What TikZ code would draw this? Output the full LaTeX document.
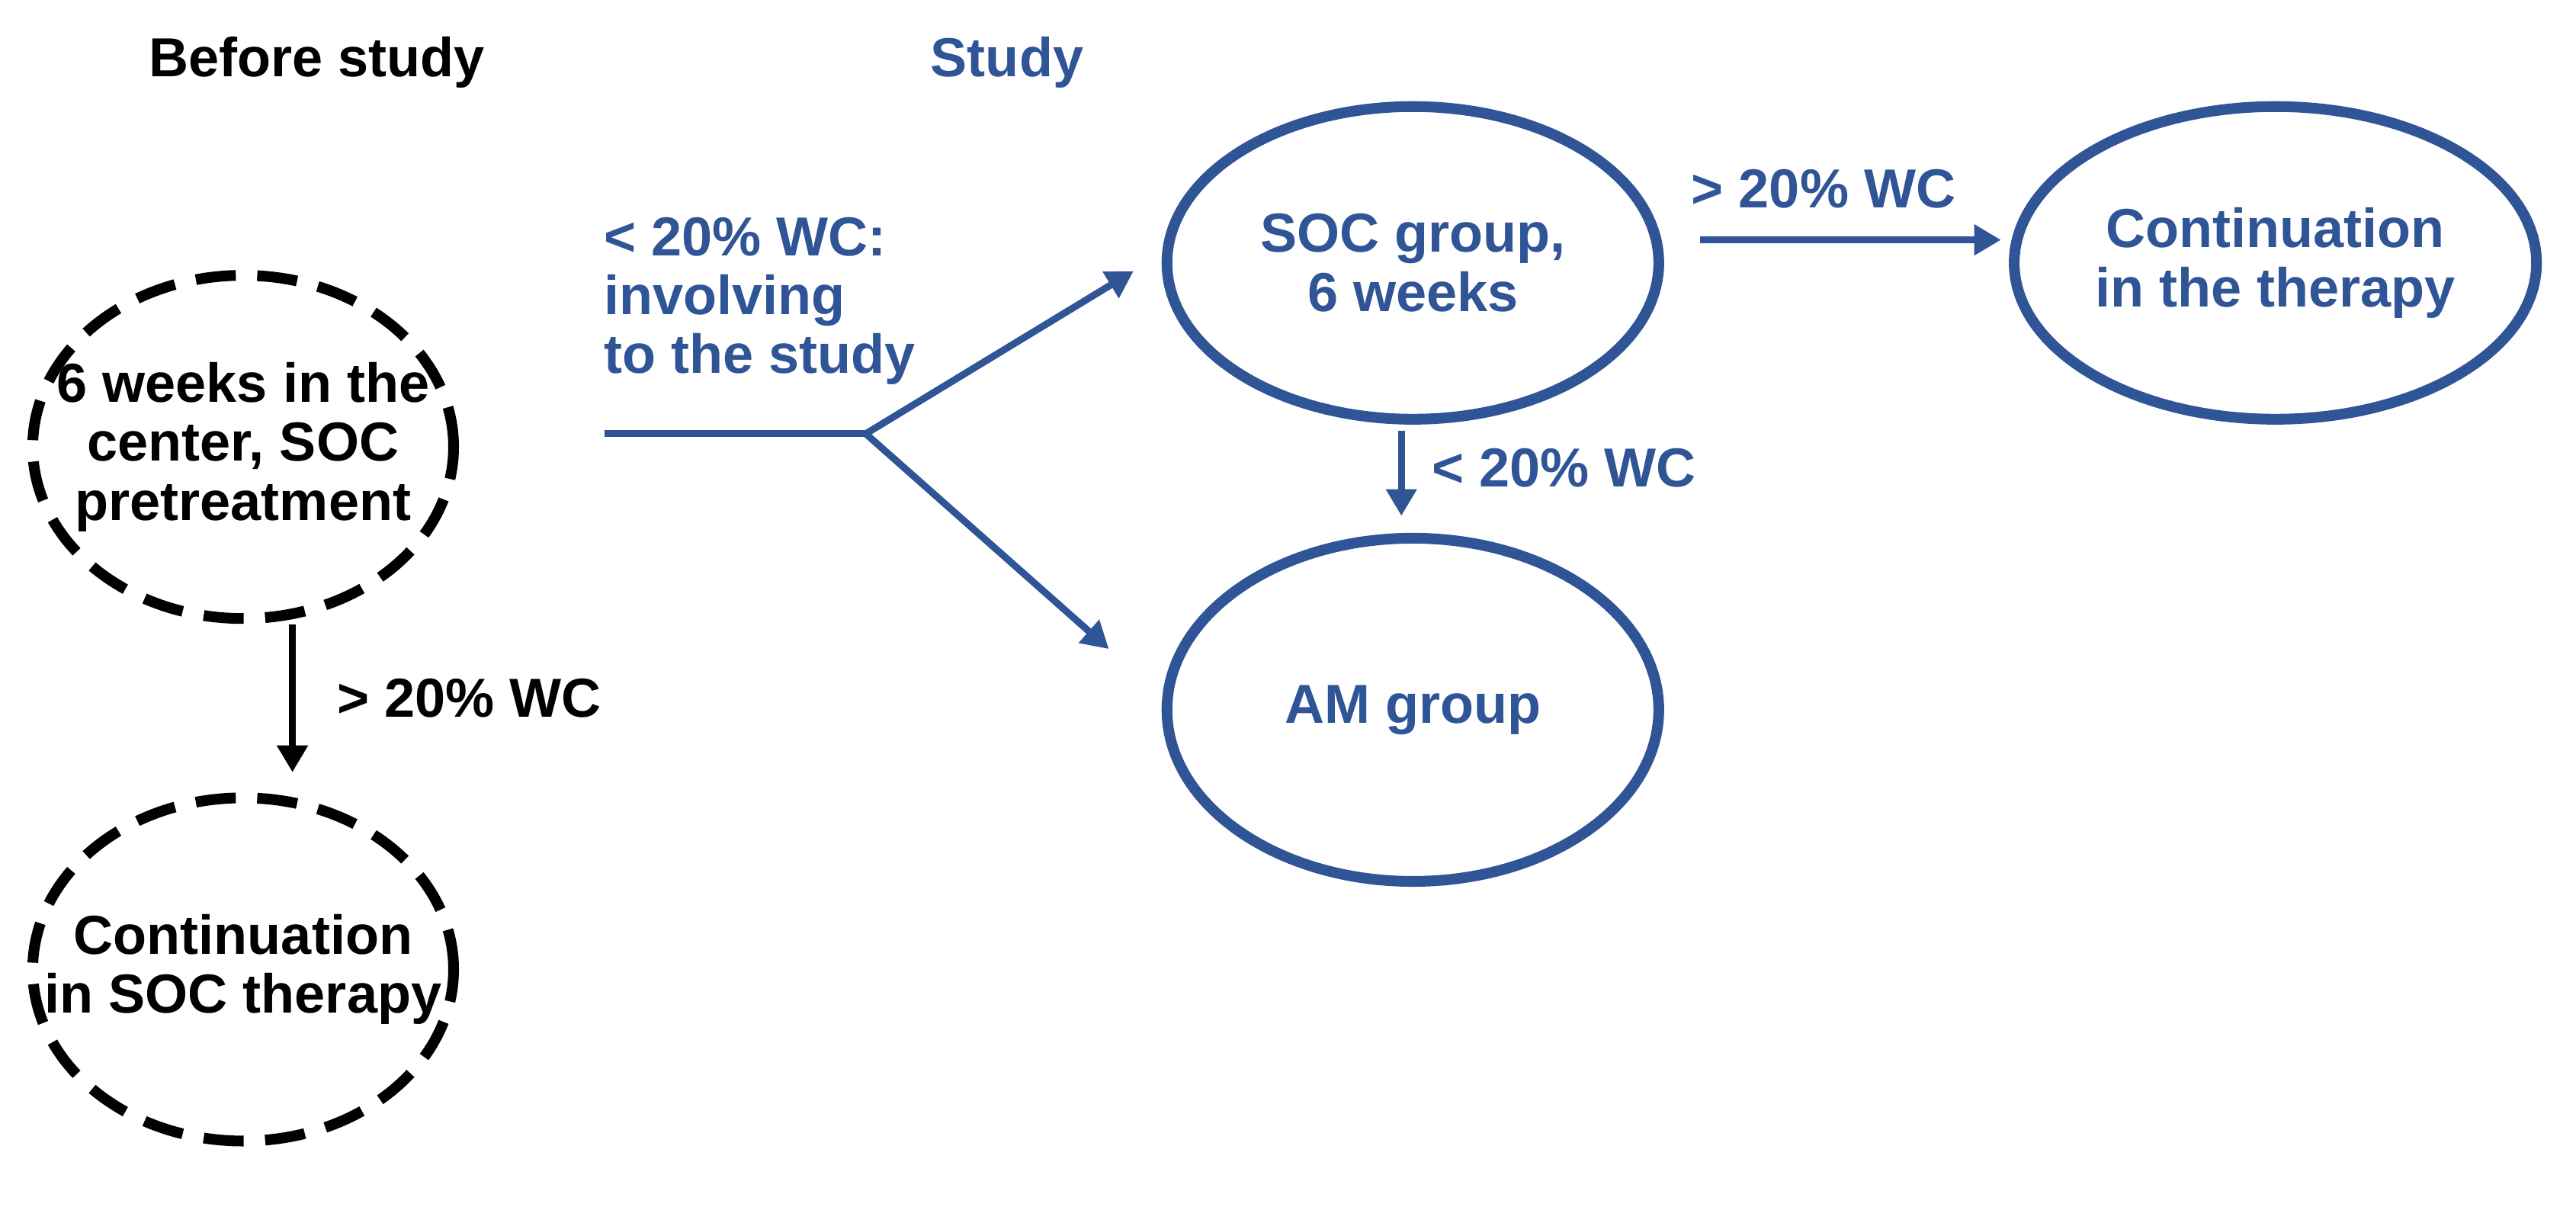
\documentclass[tikz,border=0pt]{standalone}
\usepackage{fontspec}
\setmainfont{Liberation Sans}
\usetikzlibrary{shapes.geometric,arrows.meta}
\definecolor{bl}{HTML}{2F5597}
\begin{document}
\begin{tikzpicture}[x=0.02155cm,y=-0.02155cm,
  txt/.style={font=\fontsize{20.5}{22}\selectfont\bfseries,align=center},
  el/.style={ellipse,line width=4pt,inner sep=-0.9cm,txt},
  dsh/.style={el,draw=black,dash pattern=on 15pt off 8pt},
  sol/.style={el,draw=bl,text=bl},
  arr/.style={line width=2.6pt,-{Triangle[length=10pt,width=11pt]}}]
\useasboundingbox (0,0) rectangle (1568,744);
\node[txt] (t1) at (193,38) {Before study};
\node[txt,text=bl] (t2) at (613,38) {Study};
\node[dsh,minimum width=5.52cm,minimum height=4.5cm] (a) at (148,272) {6 weeks in the\\center, SOC\\pretreatment};
\node[dsh,minimum width=5.52cm,minimum height=4.5cm] (b) at (148,590) {Continuation\\in SOC therapy};
\draw[arr] (178,380) -- (178,470) node[midway,right=12pt,txt]{> 20\% WC};
\node[sol,minimum width=6.45cm,minimum height=4.1cm] (s) at (860,160) {SOC group,\\6 weeks};
\node[sol,minimum width=6.85cm,minimum height=4.1cm] (c) at (1385,160) {Continuation\\in the therapy};
\node[sol,minimum width=6.45cm,minimum height=4.5cm] (m) at (860,432) {AM group};
\coordinate (p0) at (368,264);
\coordinate (p1) at (527,264);
\coordinate (e1) at (690,165);
\coordinate (e2) at (675,395);
\draw[bl,line width=2.6pt] (p0) -- (p1);
\draw[arr,bl] (p1) -- (e1);
\draw[arr,bl] (p1) -- (e2);
\node[txt,text=bl,align=left,anchor=south west] (l1) at (362,240) {< 20\% WC:\\involving\\to the study};
\coordinate (h1) at (1035,146);
\coordinate (h2) at (1218,146);
\draw[arr,bl] (h1) -- (h2);
\node[txt,text=bl] (l2) at (1110,115) {> 20\% WC};
\coordinate (v1) at (853,262);
\coordinate (v2) at (853,314);
\draw[arr,bl] (v1) -- (v2);
\node[txt,text=bl] (l3) at (952,285) {< 20\% WC};
\end{tikzpicture}
\end{document}
